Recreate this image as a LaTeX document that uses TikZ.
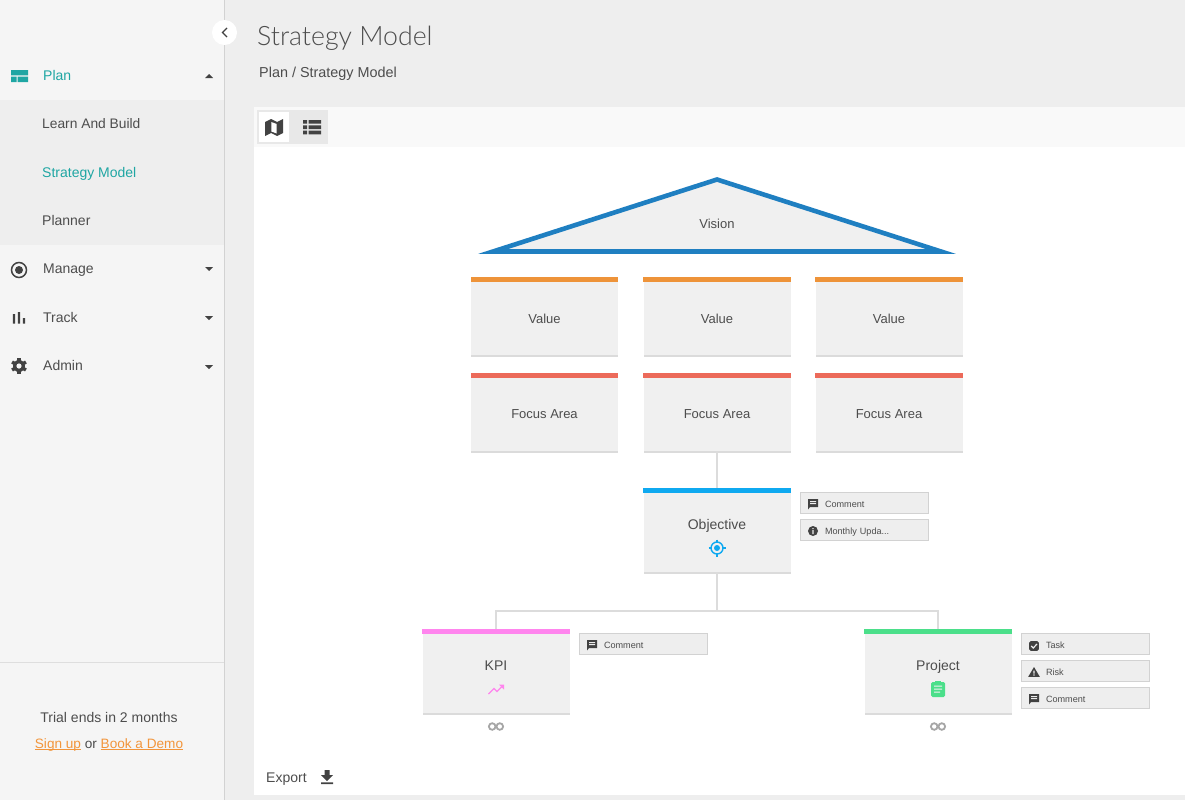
\documentclass[tikz,border=0pt]{standalone}
\usepackage{fontspec}
\setmainfont{Liberation Sans}
\newfontfamily\titlefont{Lato Light}
\usetikzlibrary{shadows}
\definecolor{sidebg}{HTML}{F5F5F5}
\definecolor{mainbg}{HTML}{EEEEEE}
\definecolor{edgegray}{HTML}{D2D2D2}
\definecolor{cardbg}{HTML}{F0F0F0}
\definecolor{textgray}{HTML}{4D4D4D}
\definecolor{icongray}{HTML}{424242}
\definecolor{linkgray}{HTML}{DCDCDC}
\definecolor{teal}{HTML}{1FA6A3}
\definecolor{linkorange}{HTML}{F2953B}
\definecolor{visionblue}{HTML}{1F7FC1}
\definecolor{valueorange}{HTML}{EE9339}
\definecolor{focusred}{HTML}{EC6A5A}
\definecolor{objectiveblue}{HTML}{0FA9F0}
\definecolor{kpipink}{HTML}{FF85EE}
\definecolor{projectgreen}{HTML}{4BDF8A}
\newcommand{\linktext}[1]{\textcolor{linkorange}{\setbox0\hbox{#1}\rlap{\rule[-1.7pt]{\wd0}{.8pt}}\box0}}
\tikzset{
  commenticon/.pic={
    \fill [icongray] (-5,-5) -- (5,-5) -- (5,3) -- (-3,3) -- (-5,5.5) -- cycle;
    \fill [mainbg] (-3,-3) rectangle (3,-2) (-3,-1) rectangle (3,0);
  },
  infoicon/.pic={
    \fill [icongray] (0,0) circle (5);
    \fill [mainbg] (-.7,-.8) rectangle (.7,3) (-.7,-3) rectangle (.7,-1.8);
  },
  taskicon/.pic={
    \fill [icongray, rounded corners=1.5] (-4.8,-4.8) rectangle (4.8,4.8);
    \draw [mainbg, line width=1.2] (-2.8,0) -- (-.8,2) -- (3,-2);
  },
  riskicon/.pic={
    \fill [icongray] (0,-5) -- (5.8,4.8) -- (-5.8,4.8) -- cycle;
    \fill [mainbg] (-.6,-1.5) rectangle (.6,1.5) (-.6,2.4) rectangle (.6,3.6);
  },
  infinityicon/.pic={
    \draw [gray!70, line width=1.8] (-3.8,0) circle (3.3) (3.8,0) circle (3.3);
  },
}
\begin{document}
\begin{tikzpicture}[x=1pt,y=-1pt]
    \tikzstyle{card} = [rectangle, minimum width=147pt, minimum height=73pt, inner sep=0pt, fill=cardbg, text=textgray, general shadow={fill=black!14, shadow yshift=-1.5pt}, font=\fontsize{13}{15}\selectfont]
    \tikzstyle{bigcard} = [card, minimum height=79pt]
    \tikzstyle{cardtext} = [inner sep=0pt, text=textgray, font=\fontsize{14}{16}\selectfont]
    \tikzstyle{chip} = [rectangle, draw=edgegray, fill=mainbg, line width=1pt, minimum width=128pt, minimum height=21pt, text width=128pt, inner xsep=0pt, inner ysep=0pt, align=left, text=textgray, text height=9.6pt, text depth=0pt, font=\fontsize{9.1}{11}\selectfont, execute at begin node={\hspace*{24.5pt}}]
    \tikzstyle{menu} = [anchor=west, yshift=-2pt, inner sep=0pt, text=textgray, text height=10pt, text depth=3pt, font=\fontsize{14}{16}\selectfont]
    \tikzstyle{connector} = [draw=linkgray, line width=2pt]
    \useasboundingbox (0,0) rectangle (1185,800);
    % page
    \fill [mainbg] (0,0) rectangle (1185,800);
    \fill [white] (254,147) rectangle (1185,795);
    \fill [black!2.5] (254,107) rectangle (1185,147);
    \fill [sidebg] (0,0) rectangle (224,800);
    \fill [mainbg] (0,100) rectangle (224,245);
    \draw [edgegray, line width=1pt] (224.5,0) -- (224.5,800);
    \draw [black!13, line width=1pt] (0,662.5) -- (224,662.5);
    \node [circle, fill=white, minimum size=25pt, inner sep=0pt] (collapse) at (224.5,32.5) {};
    \draw [icongray, line width=1.3pt] (227,28) -- (222.5,32.5) -- (227,37);
    % sidebar
    \node [menu, text=teal] (plan) at (43,75) {Plan};
    \node [menu, font=\fontsize{13.8}{16}\selectfont] (learn) at (42,123) {Learn And Build};
    \node [menu, text=teal] (strategy) at (42,172) {Strategy Model};
    \node [menu] (planner) at (42,220) {Planner};
    \node [menu] (manage) at (43,268) {Manage};
    \node [menu] (track) at (43,317) {Track};
    \node [menu] (admin) at (43,365) {Admin};
    \fill [teal] (11,70) rectangle (28,75.3) (11,76.5) rectangle (16.5,82) (17.7,76.5) rectangle (28,82);
    \draw [icongray, line width=1.5pt] (19,270) circle (7.5);
    \fill [icongray] (19,270) circle (4);
    \fill [icongray] (12.8,314) rectangle (15.2,323.5) (17.8,312) rectangle (20.2,323.5) (22.8,318) rectangle (25.2,323.5);
    \foreach \a in {0,60,...,300} \fill [icongray, shift={(19,366)}, rotate=\a] (-1.7,-8) rectangle (1.7,0);
    \fill [icongray] (19,366) circle (6);
    \fill [sidebg] (19,366) circle (2.6);
    \fill [icongray] (205,78) -- (209,74) -- (213,78) -- cycle;
    \fill [icongray] (205,267) -- (213,267) -- (209,271) -- cycle;
    \fill [icongray] (205,316) -- (213,316) -- (209,320) -- cycle;
    \fill [icongray] (205,365) -- (213,365) -- (209,369) -- cycle;
    \node [cardtext] (trial) at (109,717) {Trial ends in 2 months};
    \node [cardtext, font=\fontsize{13.6}{16}\selectfont] (signup) at (109,745) {\linktext{Sign up} or \linktext{Book a Demo}};
    % header
    \node [anchor=west, inner sep=0pt, text=textgray, font=\titlefont\fontsize{26.7}{32}\selectfont] (title) at (257,38) {Strategy Model};
    \node [menu, font=\fontsize{14.4}{16}\selectfont] (crumb) at (259,72) {Plan / Strategy Model};
    % toolbar
    \fill [black!9] (257,110) rectangle (328,144);
    \fill [white] (259,112) rectangle (289,142);
    \fill [icongray] (265,122) -- (271,119) -- (277,122) -- (283,119) -- (283,133) -- (277,136) -- (271,133) -- (265,136) -- cycle;
    \fill [white] (271.3,122) -- (276.7,124) -- (276.7,133.5) -- (271.3,131.5) -- cycle;
    \fill [icongray] (303,120) rectangle (307,123.7) (308.5,120) rectangle (321,123.7) (303,125.3) rectangle (307,129) (308.5,125.3) rectangle (321,129) (303,130.6) rectangle (307,134.3) (308.5,130.6) rectangle (321,134.3);
    % vision
    \draw [visionblue, fill=cardbg, line width=4.6pt, miter limit=10] (493,251.5) -- (717,179.5) -- (941,251.5) -- cycle;
    \node [inner sep=0pt, text=textgray, font=\fontsize{13}{15}\selectfont] (vision) at (717,223.5) {Vision};
    % cards
    \node [card] (value1) at (544.5,318.5) {Value};
    \node [card] (value2) at (717,318.5) {Value};
    \node [card] (value3) at (889,318.5) {Value};
    \node [card] (focus1) at (544.5,414.5) {Focus Area};
    \node [card] (focus2) at (717,414.5) {Focus Area};
    \node [card] (focus3) at (889,414.5) {Focus Area};
    \node [bigcard] (objective) at (717,532.5) {};
    \node [bigcard] (kpi) at (496,673.5) {};
    \node [bigcard] (project) at (938,673.5) {};
    \coordinate (split) at (717,611);
    \draw [connector] (focus2) -- (objective);
    \draw [connector] (objective) -- (split);
    \draw [connector] (split) -| (kpi.north);
    \draw [connector] (split) -| (project.north);
    \fill [valueorange] (value1.north west) rectangle ([yshift=5pt]value1.north east);
    \fill [valueorange] (value2.north west) rectangle ([yshift=5pt]value2.north east);
    \fill [valueorange] (value3.north west) rectangle ([yshift=5pt]value3.north east);
    \fill [focusred] (focus1.north west) rectangle ([yshift=5pt]focus1.north east);
    \fill [focusred] (focus2.north west) rectangle ([yshift=5pt]focus2.north east);
    \fill [focusred] (focus3.north west) rectangle ([yshift=5pt]focus3.north east);
    \fill [objectiveblue] (objective.north west) rectangle ([yshift=5pt]objective.north east);
    \fill [kpipink] (kpi.north west) rectangle ([yshift=5pt]kpi.north east);
    \fill [projectgreen] (project.north west) rectangle ([yshift=5pt]project.north east);
    \node [cardtext] (objectivetext) at (717,526) {Objective};
    \node [cardtext] (kpitext) at (496,666) {KPI};
    \node [cardtext] (projecttext) at (938,667) {Project};
    % card icons
    \draw [objectiveblue, line width=1.4pt] (717,548) circle (6);
    \fill [objectiveblue] (717,548) circle (3);
    \draw [objectiveblue, line width=1.4pt] (717,539.5) -- (717,542) (717,554) -- (717,556.5) (708.5,548) -- (711,548) (723,548) -- (725.5,548);
    \draw [kpipink, line width=1.3pt] (488.5,694) -- (494,688.5) -- (497,691.5) -- (502.5,686);
    \fill [kpipink] (499,684.5) -- (504,684.5) -- (504,689.5) -- cycle;
    \fill [projectgreen, rounded corners=1.5pt] (931,682) rectangle (945,697);
    \fill [projectgreen] (935,680.5) rectangle (941,683);
    \fill [cardbg] (934,685.5) rectangle (942,686.7) (934,688.5) rectangle (942,689.7) (934,691.5) rectangle (940,692.7);
    \pic at (496,726.5) {infinityicon};
    \pic at (938,726.5) {infinityicon};
    % chips
    \node [chip] (objcomment) at (864.5,503) {Comment};
    \node [chip] (objupdate) at (864.5,530) {Monthly Upda...};
    \node [chip] (kpicomment) at (643.5,644) {Comment};
    \node [chip] (task) at (1085.5,644) {Task};
    \node [chip] (risk) at (1085.5,671) {Risk};
    \node [chip] (projcomment) at (1085.5,698) {Comment};
    \pic at (813,504) {commenticon};
    \pic at (813,531) {infoicon};
    \pic at (592,645) {commenticon};
    \pic at (1034,646) {taskicon};
    \pic at (1034,672) {riskicon};
    \pic at (1034,699) {commenticon};
    % export
    \node [menu] (export) at (266,777) {Export};
    \fill [icongray] (324.5,770) rectangle (329.5,775) (321,775) -- (333,775) -- (327,781) -- cycle (321,782.3) rectangle (333,784);
\end{tikzpicture}
\end{document}
